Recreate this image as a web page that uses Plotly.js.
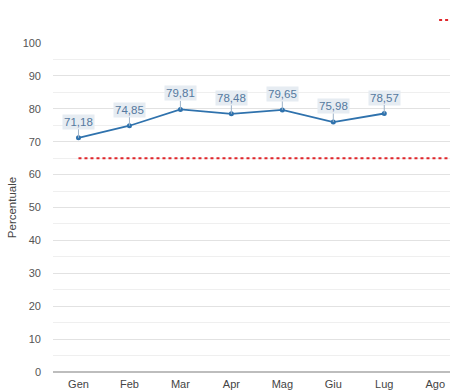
<!DOCTYPE html>
<html>
<head>
<meta charset="utf-8">
<script src="https://cdn.plot.ly/plotly-3.0.1.min.js"></script>
<style>html,body{margin:0;padding:0;overflow:hidden;background:#fff}</style>
</head>
<body>
<div id="chart" style="width:580px;height:391px"></div>
<script>
const months = ["Gen","Feb","Mar","Apr","Mag","Giu","Lug","Ago","Set"];
const valueMonths = ["Gen","Feb","Mar","Apr","Mag","Giu","Lug"];
const values = [71.18, 74.85, 79.81, 78.48, 79.65, 75.98, 78.57];
const target = [65, 65, 65, 65, 65, 65, 65, 65, 65];
const yTicks = [0,10,20,30,40,50,60,70,80,90,100];

const fmt = v => v.toFixed(2).replace('.', ',');

const traces = [
  {
    x: months, y: target, type: 'scatter', mode: 'lines', name: 'Obiettivo',
    line: {color: '#e0262b', width: 2, dash: 'dot'}, showlegend: true, hoverinfo: 'skip',
    cliponaxis: true
  },
  {
    x: valueMonths, y: values, type: 'scatter', mode: 'lines+markers', name: 'Percentuale',
    line: {color: '#2f72ad', width: 1.8}, marker: {color: '#2f72ad', size: 5},
    showlegend: false
  }
];

const annotations = valueMonths.map((m, i) => ({
  x: m, y: values[i], xref: 'x', yref: 'y', text: fmt(values[i]),
  showarrow: true, arrowhead: 0, arrowwidth: 1, arrowcolor: '#9db2c8',
  ax: 0, ay: -16, bgcolor: '#e6ecf2', borderpad: 1,
  font: {family: 'Liberation Sans, Arial, sans-serif', size: 11.5, color: '#55799f'}
}));

const layout = {
  width: 580, height: 391,
  margin: {l: 53, r: 130, t: 0, b: 19, pad: 0},
  paper_bgcolor: '#fff', plot_bgcolor: '#fff',
  font: {family: 'Liberation Sans, Arial, sans-serif', size: 11, color: '#555'},
  xaxis: {
    type: 'category', categoryarray: months, range: [-0.5, 7.29],
    showgrid: false, zeroline: false, showline: false, ticks: '',
    tickfont: {size: 11, color: '#444'}, ticklabelstandoff: 4
  },
  yaxis: {
    domain: [0, 0.8844],
    range: [0, 100], tickvals: yTicks, ticktext: yTicks.map(String),
    showgrid: true, gridcolor: '#e2e2e2', gridwidth: 1,
    minor: {dtick: 5, showgrid: true, gridcolor: '#efefef', gridwidth: 1},
    zeroline: true, zerolinecolor: '#bdbdbd', zerolinewidth: 1.5,
    showline: false, ticks: '', ticklabelstandoff: 11,
    tickfont: {size: 11, color: '#555'},
    title: {text: 'Percentuale', font: {size: 11.5, color: '#444'}, standoff: 3}
  },
  showlegend: true,
  legend: {x: 0.96, xanchor: 'left', y: 0.946, yanchor: 'middle', bgcolor: 'rgba(0,0,0,0)',
           font: {size: 11, color: '#444'}},
  annotations: annotations
};

Plotly.newPlot('chart', traces, layout, {displayModeBar: false, staticPlot: true});
</script>
</body>
</html>
